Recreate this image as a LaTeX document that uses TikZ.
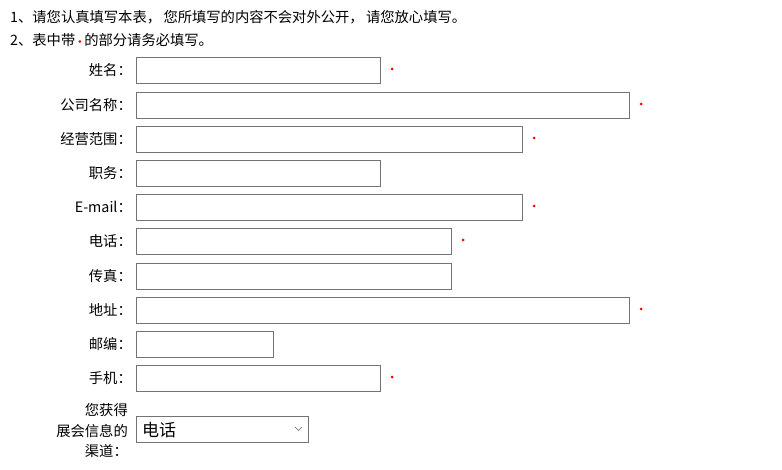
\documentclass[tikz,border=0pt]{standalone}
\usepackage{fontspec}
\setmainfont{Noto Sans CJK SC}
\begin{document}
\begin{tikzpicture}[x=1pt,y=-1pt,
  fld/.style={draw=black!55,line width=0.8pt},
  lbl/.style={anchor=east,inner sep=0,font=\fontsize{14.3}{16}\selectfont},
  req/.style={fill=red,circle,inner sep=0,minimum size=3pt}]
\useasboundingbox (0,0) rectangle (782,470);
\node[anchor=west,inner sep=0,font=\fontsize{14.3}{16}\selectfont] (l1) at (10,17) {1、请您认真填写本表，\,您所填写的内容不会对外公开，\,请您放心填写。};
\node[anchor=west,inner sep=0,font=\fontsize{14.3}{16}\selectfont] (l2) at (10,40) {2、表中带\hspace{3pt}\tikz[baseline=-4pt]\fill[red](0,0)circle(1.5pt);\hspace{3pt}的部分请务必填写。};
\foreach \n/\t/\b/\r/\lab/\s in {a/57/83/380/姓名：/1, b/92/118/629/公司名称：/1, c/126/152/522/经营范围：/1, d/160/186/380/职务：/0, e/194/220/522/E-mail：/1, f/228/254/451/电话：/1, g/263/289/451/传真：/0, h/297/323/629/地址：/1, i/331/357/273/邮编：/0, j/365/391/380/手机：/1}{
  \draw[fld] (136,\t) rectangle (\r,\b);
  \coordinate (\n) at (136,{(\t+\b)/2});
  \node[lbl] (\n l) at (132,{(\t+\b)/2}) {\lab\hspace{-2pt}};
  \ifnum\s=1 \node[req] (\n s) at ({\r+12},{(\t+\b)/2-1}) {}; \fi
}
\draw[fld] (136,416) rectangle (308,442);
\node[anchor=west,inner sep=0,font=\fontsize{17}{19}\selectfont] (sel) at (142,430) {电话};
\draw[black!60,line width=0.6pt] (295,427) -- (298.5,430.5) -- (302,427);
\node[lbl] (k1) at (128,410) {您获得};
\node[lbl] (k2) at (128,431) {展会信息的};
\node[lbl] (k3) at (128,451) {渠道：};
\end{tikzpicture}
\end{document}
